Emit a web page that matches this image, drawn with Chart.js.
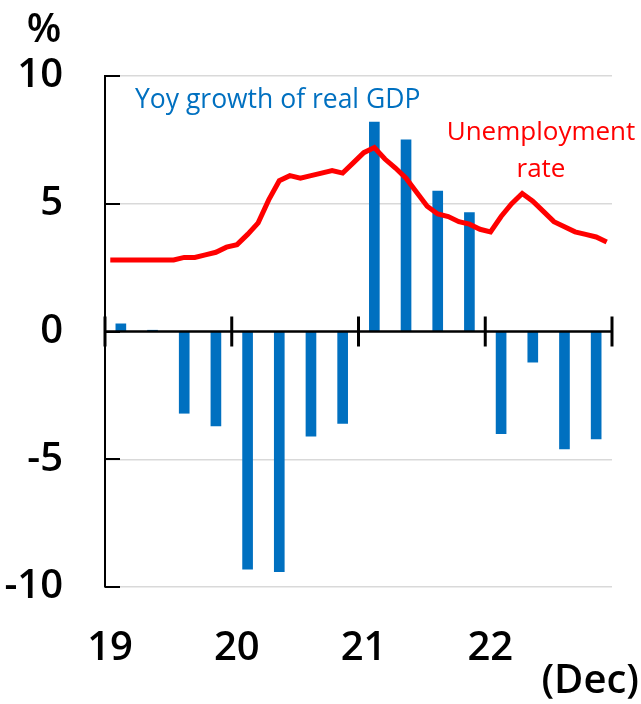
<!DOCTYPE html>
<html>
<head>
<meta charset="utf-8">
<script src="https://cdn.jsdelivr.net/npm/chart.js@4.4.1/dist/chart.umd.min.js"></script>
<style>
  html, body { margin: 0; padding: 0; background: #fff; }
  #wrap { width: 641px; height: 704px; }
</style>
</head>
<body>
<div id="wrap"><canvas id="chart" width="641" height="704"></canvas></div>
<script>
// yoy growth of real GDP, quarterly 2019Q1 .. 2022Q4
const gdpQuarters = ["19Q1","19Q2","19Q3","19Q4","20Q1","20Q2","20Q3","20Q4",
                     "21Q1","21Q2","21Q3","21Q4","22Q1","22Q2","22Q3","22Q4"];
const gdpGrowth = [0.3, 0.05, -3.2, -3.7, -9.3, -9.4, -4.1, -3.6,
                   8.2, 7.5, 5.5, 4.65, -4.0, -1.2, -4.6, -4.2];

// unemployment rate, monthly Jan 2019 .. Dec 2022
const unemployment = [2.8, 2.8, 2.8, 2.8, 2.8, 2.8, 2.8, 2.9, 2.9, 3.0, 3.1, 3.3,
                      3.4, 3.8, 4.25, 5.15, 5.9, 6.1, 6.0, 6.1, 6.2, 6.3, 6.2, 6.6,
                      7.0, 7.2, 6.75, 6.4, 6.0, 5.45, 4.9, 4.6, 4.5, 4.3, 4.2, 4.0,
                      3.9, 4.5, 5.0, 5.4, 5.1, 4.7, 4.3, 4.1, 3.9, 3.8, 3.7, 3.5];

const yearLabels = ["19", "20", "21", "22"];
const yTicks = [-10, -5, 0, 5, 10];

const FONT = "'Open Sans', 'DejaVu Sans', sans-serif";
const BLUE = "#0070C0";
const RED = "#FF0000";

// month axis: 0 = start of Jan 2019, 48 = end of Dec 2022
const linePoints = unemployment.map((v, i) => ({ x: i + 0.5, y: v }));
const barPoints = gdpGrowth.map((v, i) => ({ x: i * 3 + 1.5, y: v }));

// zero line, year ticks, inner y tick marks and the text labels
const decorPlugin = {
  id: "decor",
  afterDatasetsDraw(chart) {
    const ctx = chart.ctx;
    const x = chart.scales.x;
    const y = chart.scales.y;
    const area = chart.chartArea;
    const y0 = y.getPixelForValue(0);
    ctx.save();
    ctx.strokeStyle = "#000";

    // short black y ticks inside the plot
    ctx.lineWidth = 2;
    yTicks.forEach((v) => {
      const py = Math.round(y.getPixelForValue(v));
      ctx.beginPath();
      ctx.moveTo(area.left, py);
      ctx.lineTo(area.left + 15, py);
      ctx.stroke();
    });

    // zero line
    ctx.lineWidth = 2.5;
    ctx.beginPath();
    ctx.moveTo(area.left, y0);
    ctx.lineTo(area.right, y0);
    ctx.stroke();

    // year ticks crossing the zero line
    ctx.lineWidth = 3;
    for (let m = 0; m <= 48; m += 12) {
      const px = x.getPixelForValue(m);
      ctx.beginPath();
      ctx.moveTo(px, y0 - 15);
      ctx.lineTo(px, y0 + 15);
      ctx.stroke();
    }

    // texts
    ctx.textBaseline = "alphabetic";
    ctx.fillStyle = "#000";
    ctx.font = "600 40px " + FONT;
    ctx.textAlign = "center";
    ctx.fillText("%", 44, 42);
    ctx.textAlign = "right";
    ctx.fillText("(Dec)", 639, 693);

    ctx.font = "400 26.5px " + FONT;
    ctx.fillStyle = BLUE;
    ctx.textAlign = "left";
    ctx.fillText("Yoy growth of real GDP", 135, 108);

    ctx.fillStyle = RED;
    ctx.font = "400 26px " + FONT;
    ctx.textAlign = "center";
    ctx.fillText("Unemployment", 541, 140);
    ctx.fillText("rate", 541, 177);
    ctx.restore();
  },
};

new Chart(document.getElementById("chart").getContext("2d"), {
  type: "bar",
  data: {
    datasets: [
      {
        type: "line",
        label: "Unemployment rate",
        data: linePoints,
        borderColor: RED,
        borderWidth: 5,
        pointRadius: 0,
        tension: 0,
        order: 0,
      },
      {
        type: "bar",
        label: "Yoy growth of real GDP",
        data: barPoints,
        backgroundColor: BLUE,
        barThickness: 10,
        order: 1,
      },
    ],
  },
  options: {
    responsive: false,
    animation: false,
    events: [],
    layout: { padding: { top: 76, right: 29, left: 0, bottom: 0 } },
    plugins: {
      legend: { display: false },
      tooltip: { enabled: false },
    },
    scales: {
      x: {
        type: "linear",
        min: 0,
        max: 48,
        offset: false,
        grid: { display: false, drawTicks: false },
        border: { display: false },
        afterBuildTicks: (scale) => {
          scale.ticks = yearLabels.map((_, i) => ({ value: i * 12 }));
        },
        afterFit: (scale) => { scale.height = 117; },
        ticks: {
          autoSkip: false,
          maxRotation: 0,
          padding: 38,
          labelOffset: 5,
          color: "#000",
          font: { family: FONT, size: 40, weight: "600" },
          callback: (v) => yearLabels[Math.round(v / 12)],
        },
      },
      y: {
        min: -10,
        max: 10,
        afterBuildTicks: (scale) => {
          scale.ticks = yTicks.map((v) => ({ value: v }));
        },
        afterFit: (scale) => { scale.width = 105; },
        grid: {
          drawTicks: false,
          lineWidth: 1.5,
          color: (c) => (c.tick && c.tick.value === 0 ? "rgba(0,0,0,0)" : "#d9d9d9"),
        },
        border: { display: true, color: "#000", width: 2 },
        ticks: {
          padding: 42,
          color: "#000",
          font: { family: FONT, size: 40, weight: "600" },
        },
      },
    },
  },
  plugins: [decorPlugin],
});
</script>
</body>
</html>
